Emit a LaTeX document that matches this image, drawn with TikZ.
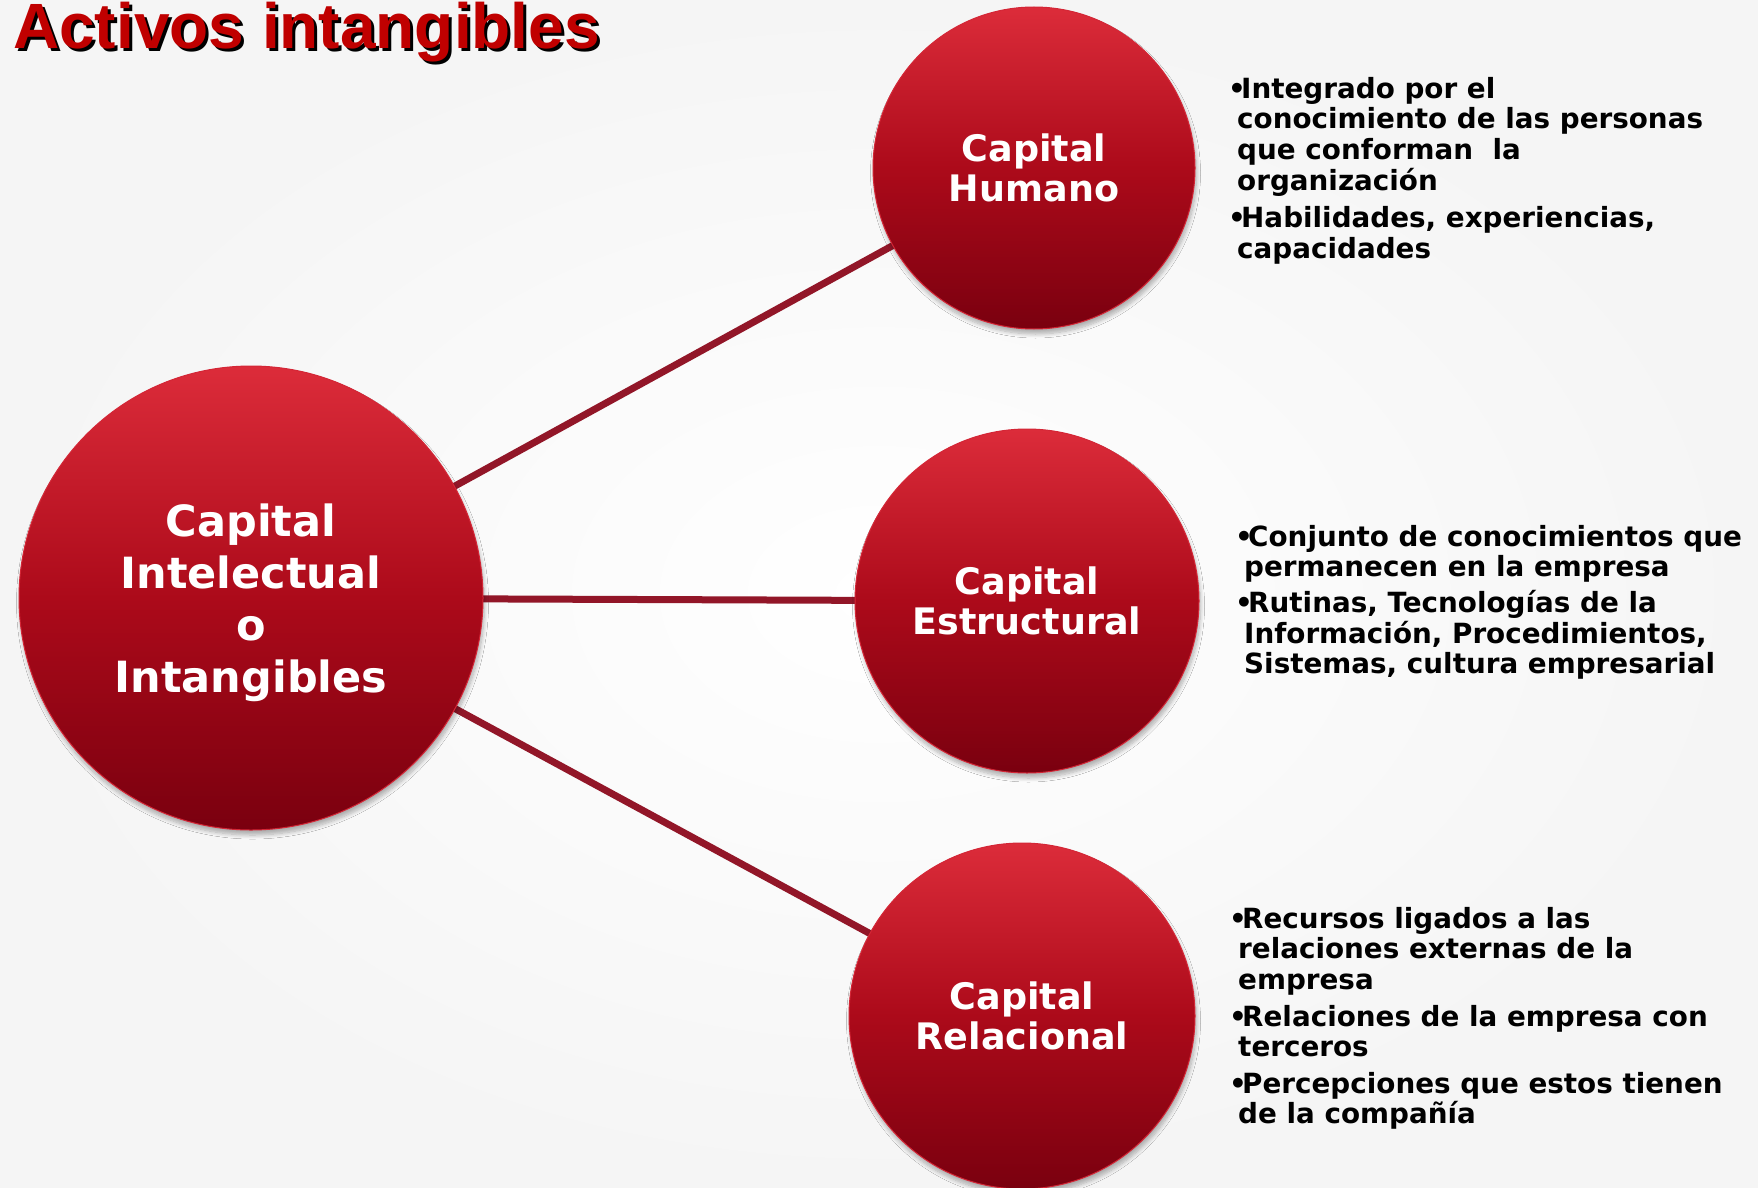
\documentclass[tikz,border=0pt]{standalone}
\usepackage{fontspec}
\setmainfont{DejaVu Sans}
\newfontfamily\titlefont{Liberation Sans}
\usetikzlibrary{shadows.blur}
\definecolor{bgout}{HTML}{F5F5F5}
\definecolor{ctop}{HTML}{DC2C3A}
\definecolor{cmid}{HTML}{AC0A1A}
\definecolor{cbot}{HTML}{7A000F}
\definecolor{rim}{HTML}{D42636}
\definecolor{linkred}{HTML}{921628}
\definecolor{titlered}{HTML}{C00000}
\newcommand{\bul}{\makebox[13pt][l]{•}}
\newcommand{\ind}{\hspace*{9pt}}
\newcommand{\nodepth}[1]{\raisebox{0pt}[\height][0pt]{#1}}
\tikzset{
  capcircle/.style={circle, minimum size=#1, inner sep=0pt,
    top color=ctop, bottom color=cbot, middle color=cmid,
    draw=rim, line width=1pt, text=white, align=center,
    blur shadow={shadow xshift=1.5pt, shadow yshift=-5pt, shadow blur radius=4pt, shadow blur steps=8, shadow opacity=30}},
  smalltext/.style={font=\bfseries\fontsize{36.5}{40}\selectfont},
  bigtext/.style={font=\bfseries\fontsize{43}{52}\selectfont},
  desc/.style={anchor=north west, inner sep=0pt, align=left, text=black,
    font=\bfseries\fontsize{27.8}{30.6}\selectfont},
  link/.style={draw=linkred, line width=7pt},
  titletext/.style={anchor=base west, inner sep=0pt, font=\titlefont\bfseries\fontsize{64}{64}\selectfont}
}
\begin{document}
\begin{tikzpicture}[x=1pt, y=-1pt]
  \useasboundingbox (0,0) rectangle (1758,1188);
  \shade[inner color=white, outer color=bgout] (0,0) rectangle (1758,1188);

  % title
  \node[titletext, text=black] (titleshadow) at (16,52) {Activos intangibles};
  \node[titletext, text=titlered] (title) at (13,49) {Activos intangibles};

  % connector lines (drawn center to center, behind circles)
  \coordinate (pi) at (251,598);
  \coordinate (ph) at (1034,168);
  \coordinate (pe) at (1027,601);
  \coordinate (pr) at (1022,1016);
  \draw[link] (pi) -- (ph);
  \draw[link] (pi) -- (pe);
  \draw[link] (pi) -- (pr);

  % circles
  \node[capcircle=464pt, bigtext] (ci) at (pi) {Capital\\Intelectual\\o\\\nodepth{Intangibles}};
  \node[capcircle=322pt, smalltext] (ch) at (ph) {Capital\\Humano};
  \node[capcircle=344pt, smalltext] (ce) at (pe) {Capital\\Estructural};
  \node[capcircle=346pt, smalltext] (cr) at (pr) {Capital\\Relacional};

  % descriptions
  \node[desc] (th) at (1228,77) {\bul Integrado por el\\
    \ind conocimiento de las personas\\
    \ind que conforman~~la\\
    \ind organización\\[7pt]
    \bul Habilidades, experiencias,\\
    \ind capacidades};
  \node[desc] (te) at (1235,525) {\bul Conjunto de conocimientos que\\
    \ind permanecen en la empresa\\[5pt]
    \bul Rutinas, Tecnologías de la\\
    \ind Información, Procedimientos,\\
    \ind Sistemas, cultura empresarial};
  \node[desc] (tr) at (1229,907) {\bul Recursos ligados a las\\
    \ind relaciones externas de la\\
    \ind empresa\\[6pt]
    \bul Relaciones de la empresa con\\
    \ind terceros\\[6pt]
    \bul Percepciones que estos tienen\\
    \ind de la compañía};
\end{tikzpicture}
\end{document}
